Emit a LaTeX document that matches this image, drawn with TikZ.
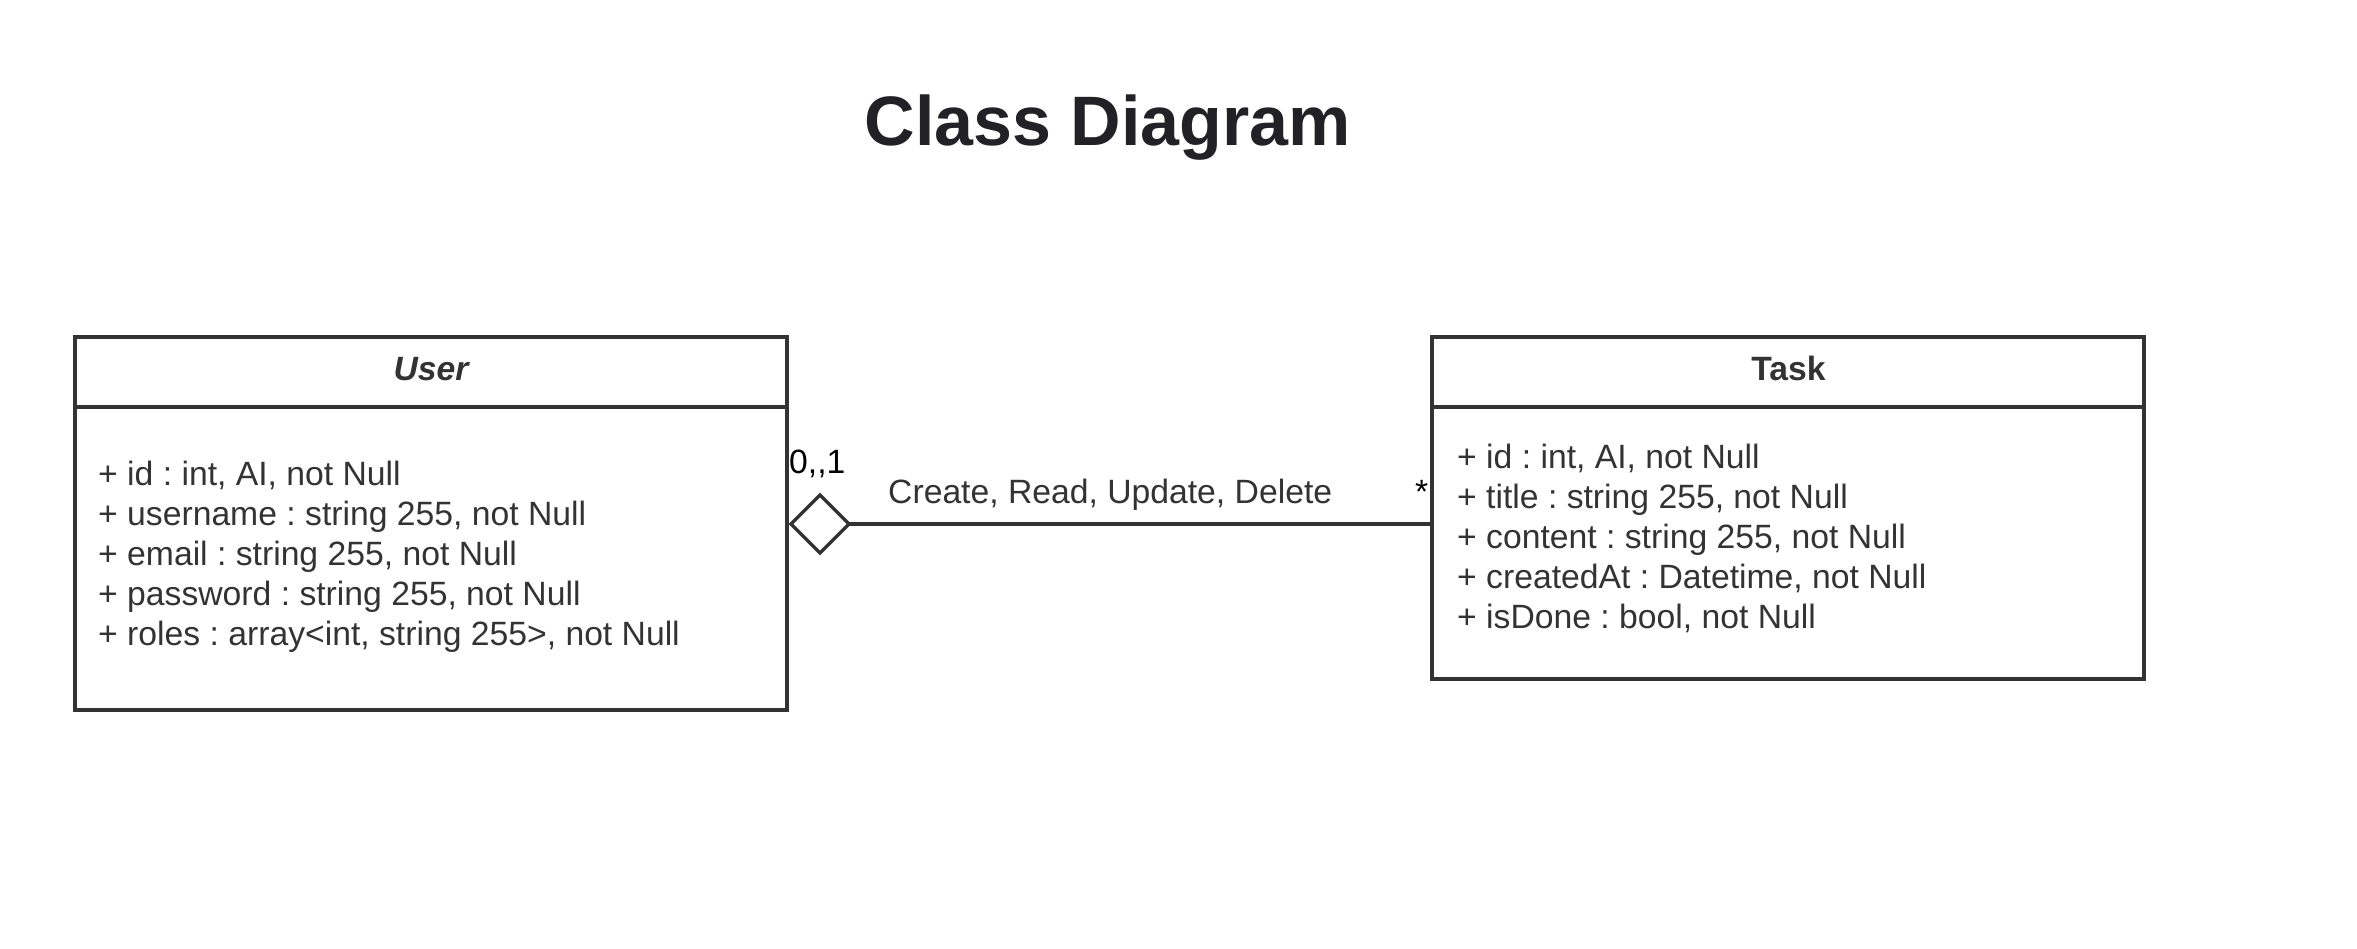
\documentclass[tikz,border=0pt]{standalone}
\usepackage{fontspec}
\setmainfont{Liberation Sans}
\frenchspacing
\usetikzlibrary{shapes.geometric}
\definecolor{linec}{HTML}{333333}
\definecolor{textc}{HTML}{333333}
\definecolor{titlec}{HTML}{222226}
\tikzset{
  classbox/.style={draw=linec, line width=3.3pt, inner sep=0pt, outer sep=0pt, minimum width=712pt, anchor=north west},
  attr/.style={text=textc, inner sep=0pt, anchor=base west, font=\fontsize{33.7}{40}\selectfont},
  lbl/.style={inner sep=0pt, font=\fontsize{33.7}{40}\selectfont},
  headtxt/.style={text=textc, inner sep=0pt, anchor=base, font=\fontsize{33.7}{40}\selectfont\bfseries},
  conn/.style={draw=linec, line width=3.3pt}
}
\begin{document}
\frenchspacing
\begin{tikzpicture}[x=1pt,y=-1pt]
\useasboundingbox (0,0) rectangle (2357,948);
\node[text=titlec, inner sep=0pt, anchor=base, font=\fontsize{70}{80}\selectfont\bfseries] (title) at (1108,145) {Class Diagram};
% User
\node[classbox, minimum height=70pt] (userhead) at (75,337) {};
\node[classbox, minimum height=303pt] (userbody) at (userhead.south west) {};
\node[headtxt, font=\fontsize{33.7}{40}\selectfont\bfseries\itshape] (usertitle) at (431,380) {User};
\foreach \t [count=\i] in {{+ id : int, AI, not Null},{+ username : string 255, not Null},{+ email : string 255, not Null},{+ password : string 255, not Null},{+ roles : array<int, string 255>, not Null}}
  \node[attr] (ua\i) at (98,445+40*\i) {\frenchspacing\t};
% Task
\node[classbox, minimum height=70pt] (taskhead) at (1432,337) {};
\node[classbox, minimum height=272pt] (taskbody) at (taskhead.south west) {};
\node[headtxt] (tasktitle) at (1788.5,380) {Task};
\foreach \t [count=\i] in {{+ id : int, AI, not Null},{+ title : string 255, not Null},{+ content : string 255, not Null},{+ createdAt : Datetime, not Null},{+ isDone : bool, not Null}}
  \node[attr] (ta\i) at (1457,428+40*\i) {\frenchspacing\t};
% association
\node[diamond, draw=linec, line width=3.3pt, fill=white, inner sep=0pt, outer sep=0pt, minimum width=58pt, minimum height=58pt] (agg) at (820,524) {};
\draw[conn] (agg.east) -- (agg.east -| taskbody.west);
\node[lbl, anchor=base west] (mult1) at (789,473) {0{,}{,}1};
\node[lbl, text=textc, anchor=base west] (assoc) at (888,503) {Create, Read, Update, Delete};
\node[lbl, anchor=base east] (mult2) at (1428.5,503) {*};
\end{tikzpicture}
\end{document}
